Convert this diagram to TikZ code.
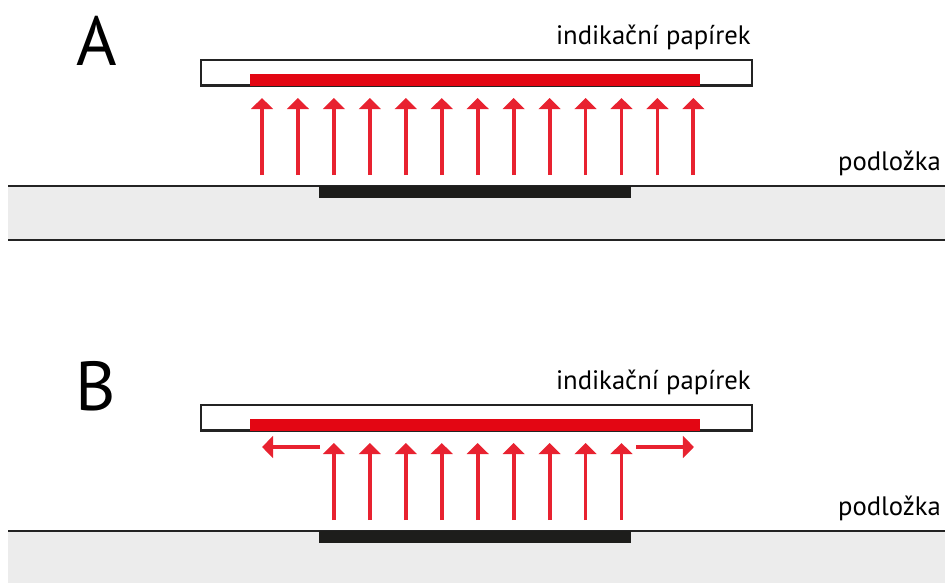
\documentclass[tikz,border=0pt]{standalone}
\usepackage{fontspec}
\setmainfont{PT Sans}
\usetikzlibrary{arrows.meta}
\definecolor{arrowred}{RGB}{232,34,48}
\definecolor{barred}{RGB}{227,6,19}
\definecolor{subgray}{RGB}{236,236,236}
\definecolor{padblack}{RGB}{29,29,27}
\definecolor{linedark}{RGB}{35,35,35}
\tikzset{
  flow/.style={draw=arrowred, line width=2.9pt, -{Triangle[length=8.3pt,width=16.2pt]}},
  paperbox/.style={draw=linedark, fill=white, line width=1.7pt},
  redbar/.style={fill=barred},
  pad/.style={fill=padblack},
  subfill/.style={fill=subgray},
  subline/.style={draw=linedark, line width=1.9pt},
  lbl/.style={font=\fontsize{20pt}{24pt}\selectfont, anchor=base east, inner sep=0pt, text=black},
  bigl/.style={font=\fontsize{52pt}{60pt}\selectfont, anchor=base, inner sep=0pt, text=black}
}
\begin{document}
\begin{tikzpicture}[x=0.75pt,y=-0.75pt]
\useasboundingbox (0,0) rectangle (945,583);
% ---------- Panel A ----------
\node[bigl] (labA) at (97,65) {A};
\node[lbl] (paperA) at (751,44) {indikační papírek};
\node[lbl] (subA) at (941,170) {podložka};
\fill[subfill] (8,186) rectangle (945,240);
\draw[subline] (8,186) -- (945,186);
\draw[subline] (8,240) -- (945,240);
\fill[pad] (319,186) rectangle (631,198);
\draw[paperbox] (201,60) rectangle (752,85.5);
\fill[redbar] (250,74) rectangle (700,86);
\foreach \i in {0,...,12}{
  \coordinate (a\i s) at ({262+35.95*\i},175);
  \coordinate (a\i e) at ({262+35.95*\i},98);
  \draw[flow] (a\i s) -- (a\i e);
}
% ---------- Panel B ----------
\node[bigl] (labB) at (96,410) {B};
\node[lbl] (paperB) at (751,389) {indikační papírek};
\node[lbl] (subB) at (941,515) {podložka};
\fill[subfill] (8,531) rectangle (945,583);
\draw[subline] (8,531) -- (945,531);
\fill[pad] (319,531) rectangle (631,543);
\draw[paperbox] (201,405) rectangle (752,430.5);
\fill[redbar] (250,419) rectangle (700,431);
\foreach \i in {2,...,10}{
  \coordinate (b\i s) at ({262+35.95*\i},520);
  \coordinate (b\i e) at ({262+35.95*\i},443);
  \draw[flow] (b\i s) -- (b\i e);
}
\coordinate (bls) at (320,447);
\coordinate (ble) at (262,447);
\coordinate (brs) at (636,447);
\coordinate (bre) at (694,447);
\draw[flow] (bls) -- (ble);
\draw[flow] (brs) -- (bre);
\end{tikzpicture}
\end{document}
